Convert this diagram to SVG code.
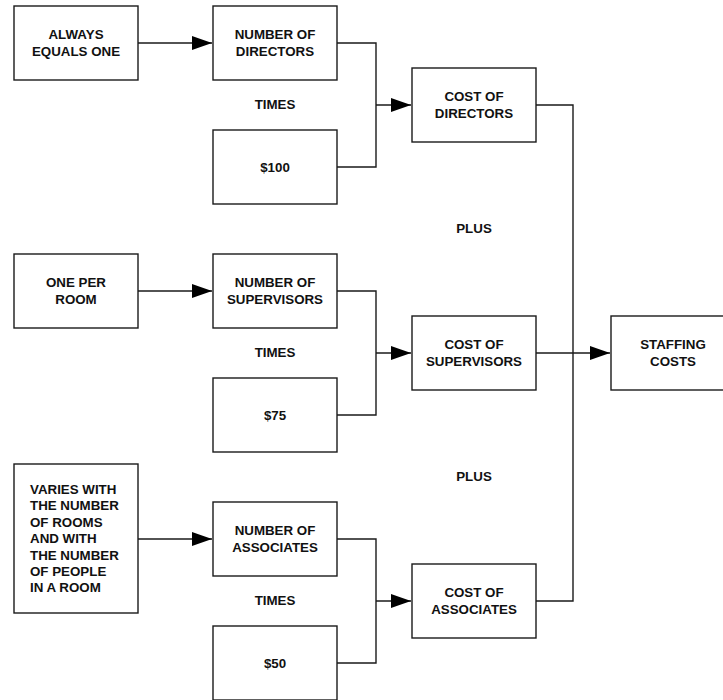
<svg xmlns="http://www.w3.org/2000/svg" width="723" height="700" viewBox="0 0 723 700">
<style>
.box{fill:#fff;stroke:#1a1a1a;stroke-width:1.4}
.t{font-family:"Liberation Sans",Arial,sans-serif;font-weight:bold;font-size:13.33px;fill:#111;text-anchor:middle}
.tl{font-family:"Liberation Sans",Arial,sans-serif;font-weight:bold;font-size:13.33px;fill:#111}
.c{fill:none;stroke:#1a1a1a;stroke-width:1.4}
</style>
<defs>
<marker id="ah" markerUnits="userSpaceOnUse" markerWidth="21" markerHeight="14" refX="20" refY="7" orient="auto">
<path d="M0,0 L20,7 L0,14 Z" fill="#000"/>
</marker>
</defs>
<rect width="723" height="700" fill="#fff"/>
<g id="connectors">
<line class="c" x1="138" y1="43" x2="212" y2="43" marker-end="url(#ah)"/>
<polyline class="c" points="337,43 376,43 376,167 337,167"/>
<line class="c" x1="376" y1="105" x2="411" y2="105" marker-end="url(#ah)"/>
<line class="c" x1="138" y1="291" x2="212" y2="291" marker-end="url(#ah)"/>
<polyline class="c" points="337,291 376,291 376,415 337,415"/>
<line class="c" x1="376" y1="353" x2="411" y2="353" marker-end="url(#ah)"/>
<line class="c" x1="138" y1="539" x2="212" y2="539" marker-end="url(#ah)"/>
<polyline class="c" points="337,539 376,539 376,663 337,663"/>
<line class="c" x1="376" y1="601" x2="411" y2="601" marker-end="url(#ah)"/>
<polyline class="c" points="536,105 573,105 573,601 536,601"/>
<line class="c" x1="536" y1="353" x2="610" y2="353" marker-end="url(#ah)"/>
</g>
<g id="always"><rect class="box" x="14" y="6" width="124" height="74"/><text class="t" x="76" y="39">ALWAYS</text><text class="t" x="76" y="56">EQUALS ONE</text></g>
<g id="num-directors"><rect class="box" x="213" y="6" width="124" height="74"/><text class="t" x="275" y="39">NUMBER OF</text><text class="t" x="275" y="56">DIRECTORS</text></g>
<g id="times1"><text class="t" x="275" y="109">TIMES</text></g>
<g id="d100"><rect class="box" x="213" y="130" width="124" height="74"/><text class="t" x="275" y="171.5">$100</text></g>
<g id="cost-directors"><rect class="box" x="412" y="68" width="124" height="74"/><text class="t" x="474" y="101">COST OF</text><text class="t" x="474" y="118">DIRECTORS</text></g>
<g id="plus1"><text class="t" x="474" y="233">PLUS</text></g>
<g id="oneper"><rect class="box" x="14" y="254" width="124" height="74"/><text class="t" x="76" y="287">ONE PER</text><text class="t" x="76" y="304">ROOM</text></g>
<g id="num-supervisors"><rect class="box" x="213" y="254" width="124" height="74"/><text class="t" x="275" y="287">NUMBER OF</text><text class="t" x="275" y="304">SUPERVISORS</text></g>
<g id="times2"><text class="t" x="275" y="357">TIMES</text></g>
<g id="d75"><rect class="box" x="213" y="378" width="124" height="74"/><text class="t" x="275" y="419.5">$75</text></g>
<g id="cost-supervisors"><rect class="box" x="412" y="316" width="124" height="74"/><text class="t" x="474" y="349">COST OF</text><text class="t" x="474" y="366">SUPERVISORS</text></g>
<g id="staffing"><rect class="box" x="611" y="316" width="124" height="74"/><text class="t" x="673" y="349">STAFFING</text><text class="t" x="673" y="366">COSTS</text></g>
<g id="plus2"><text class="t" x="474" y="481">PLUS</text></g>
<g id="varies"><rect class="box" x="14" y="464" width="124" height="149"/>
<text class="tl" x="30" y="494">VARIES WITH</text>
<text class="tl" x="30" y="510.4">THE NUMBER</text>
<text class="tl" x="30" y="526.8">OF ROOMS</text>
<text class="tl" x="30" y="543.2">AND WITH</text>
<text class="tl" x="30" y="559.6">THE NUMBER</text>
<text class="tl" x="30" y="576">OF PEOPLE</text>
<text class="tl" x="30" y="592.4">IN A ROOM</text></g>
<g id="num-associates"><rect class="box" x="213" y="502" width="124" height="74"/><text class="t" x="275" y="535">NUMBER OF</text><text class="t" x="275" y="552">ASSOCIATES</text></g>
<g id="times3"><text class="t" x="275" y="605">TIMES</text></g>
<g id="d50"><rect class="box" x="213" y="626" width="124" height="74"/><text class="t" x="275" y="667.5">$50</text></g>
<g id="cost-associates"><rect class="box" x="412" y="564" width="124" height="74"/><text class="t" x="474" y="597">COST OF</text><text class="t" x="474" y="614">ASSOCIATES</text></g>
</svg>
